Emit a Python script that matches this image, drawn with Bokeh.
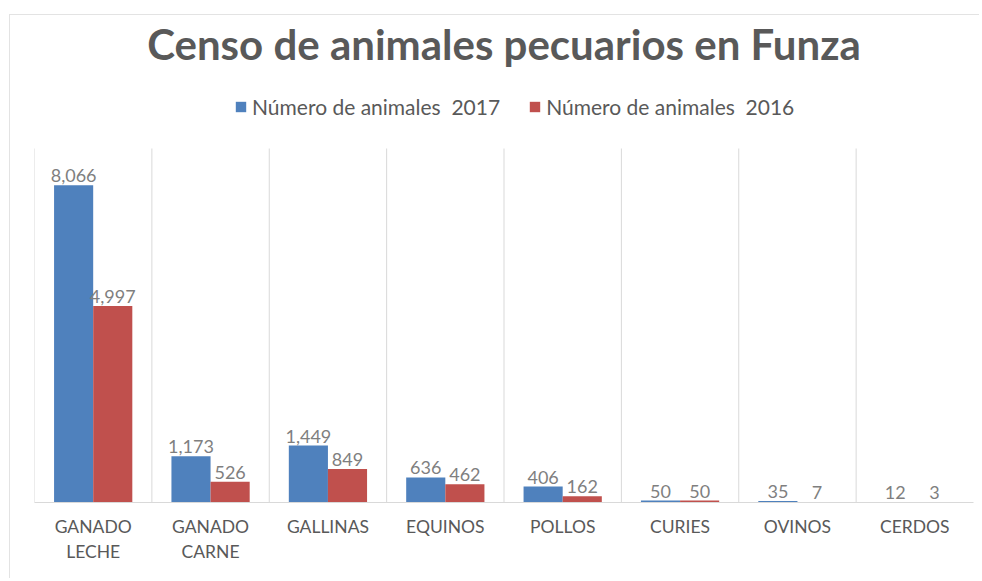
from bokeh.plotting import figure
from bokeh.models import (ColumnDataSource, Range1d, FactorRange, Legend, LegendItem,
                          Label, CategoricalAxis, CustomJSTickFormatter)
from bokeh.transform import dodge
from bokeh.embed import file_html
from bokeh.resources import INLINE
from bokeh.core.properties import value

# ---- data ----
categories = ["GANADO LECHE", "GANADO CARNE", "GALLINAS", "EQUINOS",
              "POLLOS", "CURIES", "OVINOS", "CERDOS"]
tick_line1 = ["GANADO", "GANADO", "GALLINAS", "EQUINOS",
              "POLLOS", "CURIES", "OVINOS", "CERDOS"]
tick_line2 = ["LECHE", "CARNE", "", "", "", "", "", ""]
animales_2017 = [8066, 1173, 1449, 636, 406, 50, 35, 12]
animales_2016 = [4997, 526, 849, 462, 162, 50, 7, 3]
series_names = ["Número de animales  2017", "Número de animales  2016"]
title_text = "Censo de animales pecuarios en Funza"
y_max = 9000

BLUE = "#4f81bd"
RED = "#c0504d"
GRAY = "#595959"
LABEL_GRAY = "#7f7f7f"
FONT = value("Lato")

W, H = 970, 564
BL, BR, BB = 24, 7, 77
frame_h = H - BB
frame_w = W - BL - BR
plot_top_px = 133          # pixel (from top of figure) where y_max sits

src = ColumnDataSource(dict(
    cat=categories,
    v17=animales_2017,
    v16=animales_2016,
    l17=[f"{v:,}" for v in animales_2017],
    l16=[f"{v:,}" for v in animales_2016],
))

p = figure(
    x_range=FactorRange(*categories, range_padding=0),
    y_range=Range1d(0, y_max * frame_h / (frame_h - plot_top_px)),
    width=W, height=H,
    output_backend="svg", toolbar_location=None,
    min_border_left=BL, min_border_right=BR,
    min_border_top=0, min_border_bottom=BB,
)
p.margin = (14, 0, 0, 9)
p.styles = {"border-left": "1px solid #e3e3e3", "border-top": "1px solid #e3e3e3"}
p.outline_line_color = None
p.background_fill_color = "white"
p.border_fill_color = "white"

# category separators
seps = list(range(len(categories)))
p.segment(x0=seps, x1=seps, y0=[0] * len(seps), y1=[y_max] * len(seps),
          line_color="#d9d9d9", line_width=1)

w = 1 / 3
r17 = p.vbar(x=dodge("cat", -w / 2, range=p.x_range), top="v17", width=w,
             fill_color=BLUE, line_color=None, source=src)
r16 = p.vbar(x=dodge("cat", w / 2, range=p.x_range), top="v16", width=w,
             fill_color=RED, line_color=None, source=src)

for xoff, fld in ((-w / 2, "17"), (w / 2, "16")):
    p.text(x=dodge("cat", xoff, range=p.x_range), y="v" + fld, text="l" + fld,
           source=src, text_align="center", text_baseline="bottom", y_offset=-3,
           text_font=FONT, text_font_size="18px", text_color=LABEL_GRAY)

p.xgrid.visible = False
p.ygrid.visible = False
p.yaxis.visible = False

JS = "const i = cats.indexOf(tick); return i >= 0 ? labs[i] : '';"

ax = p.xaxis[0]
ax.formatter = CustomJSTickFormatter(args=dict(cats=categories, labs=tick_line1), code=JS)
ax.axis_line_color = "#d9d9d9"
ax.major_tick_line_color = None
ax.minor_tick_line_color = None
ax.major_label_text_font = "Lato"
ax.major_label_text_font_size = "17.5px"
ax.major_label_text_color = GRAY
ax.major_label_standoff = 7

ax2 = CategoricalAxis(formatter=CustomJSTickFormatter(args=dict(cats=categories, labs=tick_line2), code=JS),
                      axis_line_color=None, major_tick_line_color=None,
                      minor_tick_line_color=None, major_label_text_font="Lato",
                      major_label_text_font_size="17.5px",
                      major_label_text_color=GRAY, major_label_standoff=-5)
p.add_layout(ax2, "below")

legend = Legend(items=[LegendItem(label=series_names[0], renderers=[r17]),
                       LegendItem(label=series_names[1], renderers=[r16])],
                orientation="horizontal", location=(200, frame_h - 104),
                glyph_width=13, glyph_height=13, label_standoff=5, spacing=28,
                label_text_font="Lato", label_text_font_size="21px",
                label_text_color=GRAY, border_line_color=None,
                background_fill_alpha=0, padding=0, margin=0)
p.add_layout(legend, "center")

title = Label(x=frame_w / 2, y=frame_h - 28, x_units="screen", y_units="screen",
              text=title_text, text_align="center", text_baseline="middle",
              text_font="Lato", text_font_style="bold", text_font_size="42px",
              text_color=GRAY)
p.add_layout(title)

open("out.html", "w").write(file_html(p, INLINE))
